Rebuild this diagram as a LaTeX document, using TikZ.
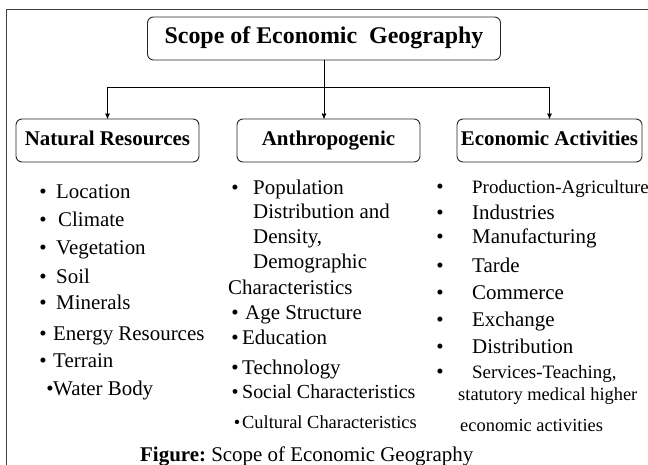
\documentclass[tikz,border=0pt]{standalone}
\usepackage{fontspec}
\setmainfont{Liberation Serif}
\usepackage{tikz}
\usetikzlibrary{arrows}
\usetikzlibrary{positioning}
\tikzset{
    head/.style={
           rectangle,
           rounded corners=6bp,
           draw=black!85,
           line width=0.9bp,
           minimum width=183bp,
           minimum height=43bp,
           inner sep=2pt,
           text height=14bp,
           text depth=4bp,
           font=\fontsize{21}{24}\selectfont\bfseries,
           text centered,
           },
    entry/.style={anchor=base west, inner sep=0pt},
    dot/.style={anchor=base, inner sep=0pt},
}

\begin{document}
\begin{tikzpicture}[x=1bp,y=-1bp,>=stealth']
 \useasboundingbox (0,0) rectangle (648,465);
 % frame
 \draw[line width=1bp, black!75] (6,465) -- (6,10) -- (648,10);

 \node[head,
 minimum width=353bp,
 text height=16bp, text depth=5bp,
 font=\fontsize{24}{28}\selectfont\bfseries] (TOP) at (324,38.5)
 {Scope of Economic~~Geography};

 \node[head] (NR) at (107.5,140.5) {Natural Resources};
 \node[head, right of=NR, node distance=221bp] (ANTH) {Anthropogenic};
 \node[head, right of=ANTH, node distance=221bp,
 minimum width=185bp] (EA) {Economic Activities};

 \coordinate (FORK) at (324,87);
 \draw[line width=0.9bp] (TOP) -- (FORK);
 \draw[->, line width=0.9bp] (FORK) -| (NR);
 \draw[->, line width=0.9bp] (FORK) -- (FORK |- ANTH.north);
 \draw[->, line width=0.9bp] (FORK) -| (EA);

 % natural resources
 \foreach \b/\x/\y/\txt [count=\i] in {43/56/199/Location, 43/58/227/Climate,
   43/56/255/Vegetation, 43/56/284/Soil, 43/56/310/Minerals,
   43/53/340/Energy Resources, 43/53/367/Terrain, 50/53/395/Water Body}
 {
   \node[dot, font=\fontsize{21}{24}\selectfont] (NRDOT\i) at (\b,\y) {\textbullet};
   \node[entry, font=\fontsize{21}{24}\selectfont] (NRITEM\i) at (\x,\y) {\txt};
 }

 % anthropogenic
 \node[dot, font=\fontsize{21}{24}\selectfont] (ANDOT0) at (235,195) {\textbullet};
 \foreach \x/\y/\txt [count=\i] in {253/195/Population, 253/219/Distribution and,
   253/244/{Density,}, 253/269/Demographic, 228/295/Characteristics}
 {
   \node[entry, font=\fontsize{21}{24}\selectfont] (ANLINE\i) at (\x,\y) {\txt};
 }
 \foreach \b/\x/\y/\s/\txt [count=\i] in {235/245/320/21/Age Structure,
   235/242/344/21/Education, 235/242/374/21/Technology,
   235/242/398/20/Social Characteristics, 237/242/428/18.5/Cultural Characteristics}
 {
   \node[dot, font=\fontsize{\s}{\s}\selectfont] (ANDOT\i) at (\b,\y) {\textbullet};
   \node[entry, font=\fontsize{\s}{\s}\selectfont] (ANITEM\i) at (\x,\y) {\txt};
 }

 % economic activities
 \foreach \y/\s/\txt [count=\i] in {194/19/Production-Agriculture, 220/21/Industries,
   244/21/Manufacturing, 273/21/Tarde, 300/21/Commerce, 326/21/Exchange,
   353/21/Distribution, 378/19/{Services-Teaching,}}
 {
   \node[dot, font=\fontsize{21}{24}\selectfont] (EADOT\i) at (440,\y) {\textbullet};
   \node[entry, font=\fontsize{\s}{\s}\selectfont] (EAITEM\i) at (472,\y) {\txt};
 }
 \node[entry, font=\fontsize{18.5}{20}\selectfont] (EAMORE1) at (458,400)
   {statutory medical higher};
 \node[entry, font=\fontsize{18.5}{20}\selectfont] (EAMORE2) at (460,431)
   {economic activities};

 \node[entry, font=\fontsize{21}{24}\selectfont] (CAPTION) at (140,461)
   {\textbf{Figure:}\ Scope of Economic Geography};
\end{tikzpicture}
\end{document}
